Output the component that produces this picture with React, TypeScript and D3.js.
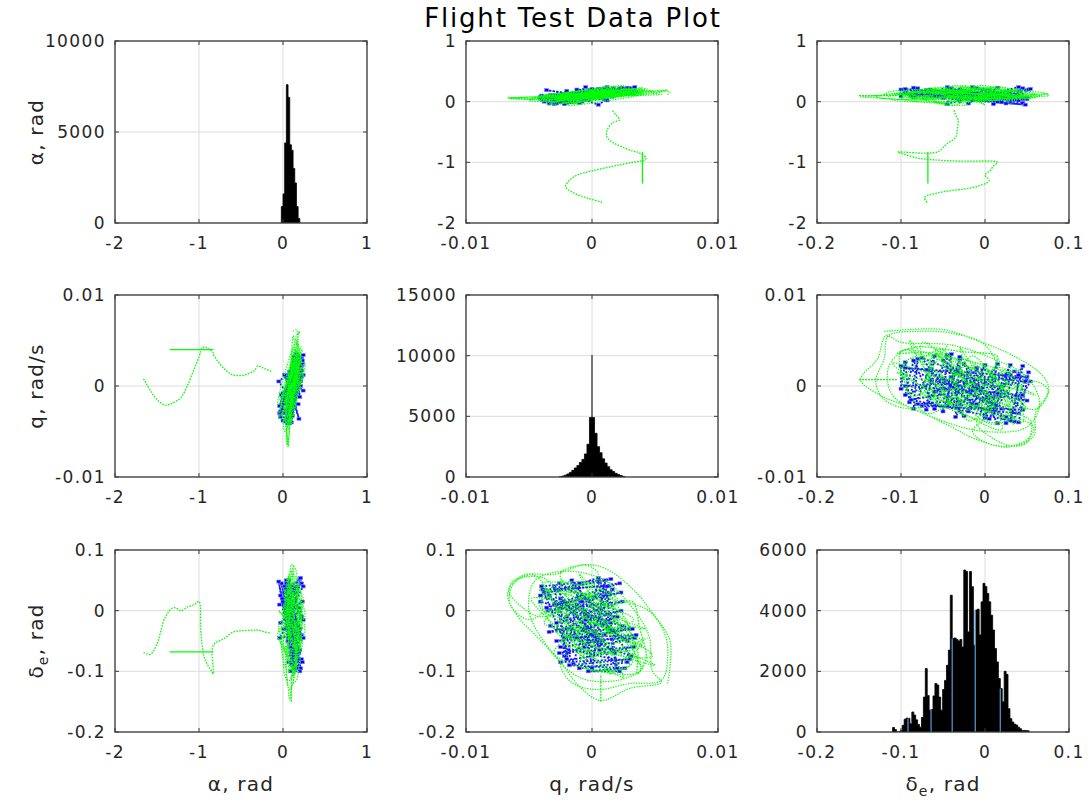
import React from "react";
import * as d3 from "d3";

// ---------- axis ticks ----------
const alphaTicks = [-2, -1, 0, 1];
const qTicks = [-0.01, 0, 0.01];
const deTicks = [-0.2, -0.1, 0, 0.1];
const alphaCountTicks = [0, 5000, 10000];
const qCountTicks = [0, 5000, 10000, 15000];
const deCountTicks = [0, 2000, 4000, 6000];

const alphaDomain = [-2, 1];
const qDomain = [-0.01, 0.01];
const deDomain = [-0.2, 0.1];
const alphaCountDomain = [0, 10000];
const qCountDomain = [0, 15000];
const deCountDomain = [0, 6000];

// ---------- histograms ----------
// angle of attack, rad
const alphaBinStart = -0.02;
const alphaBinWidth = 0.02;
const alphaCounts = [900, 1600, 4400, 7600, 6900, 4300, 4000, 3000, 2200, 900, 250];

// pitch rate, rad/s
const qBinStart = -0.0026;
const qBinWidth = 0.0002;
const qCounts = [
  20, 80, 150, 250, 380, 550, 750, 950, 1200, 1450, 1900, 2700, 4900,
  4900, 3600, 2500, 2000, 1500, 1150, 850, 600, 450, 300, 200, 120, 50,
];
const qSpike = { at: 0, halfWidth: 0.00004, count: 10050 };

// elevator deflection, rad
const deBinStart = -0.11;
const deBinWidth = 0.00229;
const deCounts = [
  150, 80, 0, 0, 50, 220, 420, 460, 450, 270, 660, 560, 400, 250, 160, 480,
  1150, 2090, 1200, 720, 740, 1190, 1600, 1550, 1150, 720, 1400, 1700, 2200,
  2700, 4510, 3080, 3100, 3050, 3000, 3050, 2800, 5340, 5290, 3300, 5290,
  4790, 2860, 4020, 4050, 3200, 4290, 4900, 4800, 4570, 4290, 3850, 3360,
  2750, 2310, 1760, 1430, 1000, 2000, 1900, 770, 440, 330, 260, 230, 160,
  110, 50, 50, 50, 40,
];
// bins whose left edge shows the lighter edge colour
const deEdgeBins = [8, 20, 31, 43, 56];

// ---------- time histories: [alpha, q, delta_e] ----------
// transition manoeuvre from deep negative alpha back to trim
const transientPath = [
  [-1.66, 0.0008, -0.069],
  [-1.58, -0.0005, -0.072],
  [-1.5, -0.0015, -0.055],
  [-1.4, -0.0021, -0.01],
  [-1.3, -0.0018, 0.005],
  [-1.21, -0.0012, 0.0],
  [-1.14, 0.0, 0.006],
  [-1.06, 0.0018, 0.01],
  [-1.0, 0.0032, 0.015],
  [-0.98, 0.0038, -0.03],
  [-0.96, 0.0042, -0.06],
  [-0.93, 0.0043, -0.08],
  [-0.85, 0.0038, -0.1],
  [-0.83, 0.0036, -0.104],
  [-0.83, 0.0035, -0.057],
  [-0.7, 0.0019, -0.046],
  [-0.59, 0.0012, -0.035],
  [-0.47, 0.0012, -0.033],
  [-0.34, 0.0017, -0.032],
  [-0.3, 0.0022, -0.032],
  [-0.22, 0.0019, -0.035],
  [-0.14, 0.0016, -0.037],
];
const jumpSegment = [
  [-1.35, 0.004, -0.068],
  [-0.83, 0.004, -0.068],
];
const tailSegment = [
  [0.1, 0.0007, -0.15],
  [0.1, 0.0007, -0.105],
];

// measured response around trim
const measuredTrim = [
  [0.12, 0.006, -0.12],
  [0.16, 0.0062, -0.05],
  [0.18, 0.005, -0.01],
  [0.17, 0.0035, 0.03],
  [0.15, 0.0012, 0.068],
  [0.1, -0.0005, 0.076],
  [0.08, -0.003, 0.06],
  [0.07, -0.0055, 0.058],
  [0.06, -0.0067, 0.028],
  [0.05, -0.0058, -0.012],
  [0.04, -0.0045, -0.04],
  [0.03, -0.0025, -0.085],
  [0.06, -0.001, -0.125],
  [0.08, 0.0007, -0.148],
  [0.1, 0.003, -0.128],
  [0.12, 0.0055, -0.118],
  [0.14, 0.0048, -0.1],
  [0.18, 0.0045, -0.04],
  [0.2, 0.003, 0.01],
  [0.16, 0.001, 0.05],
  [0.1, -0.002, 0.065],
  [0.05, -0.0045, 0.05],
  [0.02, -0.005, 0.0],
  [0.0, -0.0035, -0.06],
  [0.03, -0.001, -0.11],
  [0.08, 0.002, -0.115],
  [0.13, 0.004, -0.095],
  [0.17, 0.0035, -0.08],
  [0.22, 0.0028, -0.02],
  [0.19, 0.0005, 0.04],
  [0.12, -0.0025, 0.045],
  [0.04, -0.004, 0.02],
  [-0.02, -0.003, -0.03],
  [0.0, -0.0005, -0.08],
  [0.06, 0.0015, -0.1],
  [0.12, 0.0032, -0.085],
  [0.1, -0.003, 0.04],
  [0.06, -0.004, 0.055],
  [0.05, -0.0062, 0.05],
  [0.07, -0.0066, 0.032],
  [0.05, -0.0055, 0.005],
  [0.03, -0.004, -0.01],
  [0.08, -0.001, 0.02],
  [0.12, 0.0005, 0.06],
  [0.13, -0.0005, 0.075],
  [0.1, -0.0025, 0.062],
  [0.09, -0.002, 0.04],
  [0.16, 0.0045, 0.0],
  [0.19, 0.0058, -0.04],
  [0.2, 0.006, -0.08],
  [0.16, 0.0055, -0.115],
  [0.12, 0.003, -0.12],
  [0.08, 0.0005, -0.13],
  [0.05, -0.0015, -0.12],
  [0.04, -0.0025, -0.09],
  [0.06, -0.002, -0.06],
  [0.08, -0.0045, 0.058],
  [0.06, -0.0062, 0.045],
  [0.05, -0.0065, 0.01],
  [0.04, -0.005, -0.015],
  [0.07, -0.0035, 0.0],
  [0.18, 0.002, 0.03],
  [0.02, -0.002, -0.04],
  [0.2, 0.0025, -0.05],
  [0.0, -0.003, 0.01],
  [0.15, 0.003, -0.09],
  [0.08, -0.001, -0.09],
  [0.22, 0.002, 0.0],
  [0.05, -0.0035, 0.03],
  [0.18, 0.001, -0.07],
  [0.1, 0.0, 0.02],
  [0.23, 0.003, -0.03],
  [-0.04, -0.0015, -0.02],
  [0.14, 0.0015, -0.105],
  [0.12, -0.0025, 0.05],
  [0.2, 0.0035, -0.06],
  [0.01, -0.001, -0.06],
  [0.16, 0.0, 0.01],
  [0.14, 0.004, -0.06],
  [0.03, -0.0042, 0.035],
  [0.21, 0.0033, -0.015],
  [-0.03, -0.0025, -0.05],
  [0.18, 0.0048, -0.075],
  [0.09, -0.004, 0.045],
  [0.24, 0.002, 0.02],
  [0.04, -0.003, -0.07],
  [0.15, 0.0038, -0.1],
  [0.11, -0.001, 0.06],
  [0.25, 0.0012, -0.04],
  [-0.05, -0.0035, 0.0],
  [0.19, 0.0042, -0.03],
  [0.07, -0.0048, 0.02],
  [0.12, 0.0025, -0.11],
  [0.02, -0.0018, 0.035],
  [0.21, 0.003, -0.065],
  [0.06, -0.0028, -0.03],
  [0.17, 0.0008, 0.035],
  [0.01, -0.0038, -0.02],
  [0.23, 0.004, -0.05],
  [0.08, 0.0, -0.1],
  [0.13, -0.002, 0.03],
  [0.26, 0.0025, -0.01],
  [-0.06, -0.002, -0.035],
  [0.16, 0.005, -0.09],
  [0.1, -0.0042, 0.01],
  [0.2, 0.0015, 0.045],
  [0.05, -0.0008, -0.075],
  [0.22, 0.0044, -0.045],
];

// quantised record around trim
const quantisedTrim = [
  [0.1, -0.004, 0.04],
  [0.2, 0.0015, 0.052],
  [0.0, -0.0038, 0.03],
  [0.22, 0.0022, 0.045],
  [-0.04, -0.003, 0.01],
  [0.15, 0.0023, 0.03],
  [0.05, -0.0035, 0.0],
  [0.23, 0.0024, 0.015],
  [-0.03, -0.0028, -0.02],
  [0.12, 0.0023, 0.0],
  [0.08, -0.0034, -0.035],
  [0.2, 0.003, -0.03],
  [0.06, -0.0028, -0.05],
  [0.24, 0.0034, -0.045],
  [0.1, -0.0026, -0.07],
  [0.18, 0.0033, -0.06],
  [0.07, -0.0025, -0.085],
  [0.22, 0.003, -0.08],
  [0.12, -0.0018, -0.09],
  [0.16, 0.0026, -0.095],
  [0.09, -0.0003, -0.1],
  [0.2, 0.0022, -0.1],
  [0.02, -0.003, 0.04],
  [0.18, -0.002, -0.08],
  [-0.02, -0.001, 0.045],
  [0.21, 0.0, -0.095],
  [0.04, 0.001, 0.05],
  [0.14, 0.002, -0.095],
  [-0.05, 0.0005, 0.048],
  [0.1, -0.0015, -0.088],
  [0.03, -0.0039, 0.035],
  [0.24, 0.0012, 0.04],
  [0.06, -0.002, -0.01],
  [0.19, 0.0018, -0.07],
  [-0.01, -0.0025, 0.02],
  [0.13, 0.0028, -0.05],
  [0.05, -0.0012, 0.01],
  [0.22, 0.001, -0.04],
  [0.01, -0.002, -0.03],
  [0.17, 0.0015, -0.02],
  [0.08, -0.0041, 0.025],
  [0.21, 0.0005, 0.054],
  [0.11, 0.002, -0.01],
  [-0.04, -0.0022, -0.045],
  [0.16, 0.0035, -0.04],
  [0.09, -0.0025, -0.06],
  [0.23, 0.0028, -0.085],
  [0.14, -0.001, -0.095],
  [0.06, 0.0008, -0.05],
  [0.19, -0.0036, 0.005],
  [0.02, 0.0012, 0.03],
  [0.24, -0.0005, -0.015],
  [0.07, -0.0016, 0.05],
  [0.15, 0.0031, -0.075],
  [0.11, -0.0033, -0.025],
  [0.2, 0.0006, -0.065],
  [0.0, -0.0008, 0.015],
  [0.18, 0.0024, -0.025],
  [0.12, -0.0022, -0.075],
  [0.04, -0.0026, 0.045],
  [0.22, 0.0017, -0.01],
  [0.1, 0.0002, -0.035],
  [-0.03, -0.0034, 0.025],
  [0.16, -0.0006, -0.06],
  [0.08, 0.0016, 0.035],
  [0.2, -0.0012, -0.045],
  [0.13, 0.0032, -0.03],
  [0.05, -0.0041, 0.015],
];

// ---------- layout ----------
const colLeft = [115, 466, 817];
const rowTop = [41, 295, 550];
const PW = 252;
const PH = 182;

const FONT = "'DejaVu Sans', 'Noto Sans', sans-serif";
const INK = "#262626";
const BOX = "#3c3c3c";
const GRID = "#dcdcdc";
const GREEN = "#00ff00";
const BLUE = "#0000ff";
const EDGE_BLUE = "#4a86c0";

const varDomains = [alphaDomain, qDomain, deDomain];
const varTicks = [alphaTicks, qTicks, deTicks];
const countDomains = [alphaCountDomain, qCountDomain, deCountDomain];
const countTicks = [alphaCountTicks, qCountTicks, deCountTicks];

type Bin = [number, number, number];

function histBins(k: number): Bin[] {
  if (k === 0)
    return alphaCounts.map((n, i) => [alphaBinStart + i * alphaBinWidth, alphaBinStart + (i + 1) * alphaBinWidth, n]);
  if (k === 1)
    return qCounts.map((n, i) => [qBinStart + i * qBinWidth, qBinStart + (i + 1) * qBinWidth, n]);
  return deCounts.map((n, i) => [deBinStart + i * deBinWidth, deBinStart + (i + 1) * deBinWidth, n]);
}

function VarLabel({ k }: { k: number }) {
  if (k === 0) return <>α, rad</>;
  if (k === 1) return <>q, rad/s</>;
  return (
    <>
      <tspan>δ</tspan>
      <tspan dy={5} fontSize={14}>e</tspan>
      <tspan dy={-5}>, rad</tspan>
    </>
  );
}

function Histogram({ k, xs, ys }: { k: number; xs: d3.ScaleLinear<number, number>; ys: d3.ScaleLinear<number, number> }) {
  const bins = histBins(k);
  // step outline: one point per bin start, closing at the last bin end
  const pts: [number, number][] = bins.map((b) => [b[0], b[2]]);
  pts.push([bins[bins.length - 1][1], bins[bins.length - 1][2]]);
  const area = d3
    .area<[number, number]>()
    .x((d) => xs(d[0]))
    .y0(ys(0))
    .y1((d) => ys(d[1]))
    .curve(d3.curveStepAfter);
  return (
    <g>
      <path d={area(pts) || ""} fill="#000" stroke="#000" strokeWidth={0.8} />
      {k === 1 && (
        <rect
          x={xs(qSpike.at - qSpike.halfWidth)}
          width={Math.max(xs(qSpike.at + qSpike.halfWidth) - xs(qSpike.at - qSpike.halfWidth), 1)}
          y={ys(qSpike.count)}
          height={ys(0) - ys(qSpike.count)}
          fill="#000"
        />
      )}
      {k === 2 &&
        deEdgeBins.map((i) => {
          const ex = xs(deBinStart + i * deBinWidth);
          return (
            <line key={`e${i}`} x1={ex} x2={ex} y1={ys(0)} y2={ys(deCounts[i])} stroke={EDGE_BLUE} strokeWidth={1.4} />
          );
        })}
    </g>
  );
}

function Panel({ r, c }: { r: number; c: number }) {
  const x0 = colLeft[c];
  const y0 = rowTop[r];
  const isHist = r === c;
  const xs = d3.scaleLinear().domain(varDomains[c]).range([0, PW]);
  const ys = d3
    .scaleLinear()
    .domain(isHist ? countDomains[r] : varDomains[r])
    .range([PH, 0]);
  const xt = varTicks[c];
  const yt = isHist ? countTicks[r] : varTicks[r];
  const clipId = `clip-${r}-${c}`;

  const line = (curve: d3.CurveFactory) =>
    d3
      .line<number[]>()
      .x((d) => xs(d[c]))
      .y((d) => ys(d[r]))
      .curve(curve);

  const smooth = line(d3.curveCatmullRom.alpha(0.5));
  const straight = line(d3.curveLinear);

  return (
    <g transform={`translate(${x0},${y0})`}>
      <defs>
        <clipPath id={clipId}>
          <rect x={0} y={0} width={PW} height={PH} />
        </clipPath>
      </defs>
      {/* grid */}
      {xt.map((t) => (
        <line key={`gx${t}`} x1={xs(t)} x2={xs(t)} y1={0} y2={PH} stroke={GRID} strokeWidth={1} />
      ))}
      {yt.map((t) => (
        <line key={`gy${t}`} x1={0} x2={PW} y1={ys(t)} y2={ys(t)} stroke={GRID} strokeWidth={1} />
      ))}

      <g clipPath={`url(#${clipId})`}>
        {isHist ? (
          <Histogram k={r} xs={xs} ys={ys} />
        ) : (
          <g fill="none">
            <path
              d={straight(quantisedTrim) || ""}
              stroke={BLUE}
              strokeWidth={1.8}
              strokeOpacity={0.9}
              strokeDasharray="2 1.6"
            />
            <g fill={BLUE} stroke="#7f7fff" strokeWidth={0.6}>
              {quantisedTrim.map((d, i) => (
                <rect key={`b${i}`} x={xs(d[c]) - 2} y={ys(d[r]) - 1.5} width={4} height={3} />
              ))}
            </g>
            <path d={smooth(measuredTrim) || ""} stroke={GREEN} strokeWidth={1.2} strokeDasharray="1.3 1.3" />
            <path d={smooth(transientPath) || ""} stroke={GREEN} strokeWidth={1.3} strokeDasharray="1.6 1.3" />
            <path d={straight(jumpSegment) || ""} stroke={GREEN} strokeWidth={1.3} />
            <path d={straight(tailSegment) || ""} stroke={GREEN} strokeWidth={1.2} strokeDasharray="2 1" />
          </g>
        )}
      </g>

      {/* inward ticks */}
      {xt.map((t) => (
        <g key={`tx${t}`} stroke={BOX} strokeWidth={1}>
          <line x1={xs(t)} x2={xs(t)} y1={PH} y2={PH - 4} />
          <line x1={xs(t)} x2={xs(t)} y1={0} y2={4} />
        </g>
      ))}
      {yt.map((t) => (
        <g key={`ty${t}`} stroke={BOX} strokeWidth={1}>
          <line x1={0} x2={4} y1={ys(t)} y2={ys(t)} />
          <line x1={PW} x2={PW - 4} y1={ys(t)} y2={ys(t)} />
        </g>
      ))}
      <rect x={0} y={0} width={PW} height={PH} fill="none" stroke={BOX} strokeWidth={1.3} />

      {/* tick labels */}
      <g fontFamily={FONT} fontSize={17} fill={INK} letterSpacing={1.4}>
        {xt.map((t) => (
          <text key={`lx${t}`} x={xs(t)} y={PH + 26} textAnchor="middle">
            {String(t)}
          </text>
        ))}
        {yt.map((t) => (
          <text key={`ly${t}`} x={-9} y={ys(t) + 6} textAnchor="end">
            {String(t)}
          </text>
        ))}
      </g>
    </g>
  );
}

export default function App() {
  const cells: [number, number][] = [];
  for (let r = 0; r < 3; r++) for (let c = 0; c < 3; c++) cells.push([r, c]);
  return (
    <svg
      width={1091}
      height={809}
      viewBox="0 0 1091 809"
      style={{ display: "block", position: "absolute", left: 0, top: 0, background: "#fff" }}
    >
      <rect x={0} y={0} width={1091} height={809} fill="#fff" />
      <text x={573} y={27} textAnchor="middle" fontFamily={FONT} fontSize={26} letterSpacing={1.8} fill="#000">
        Flight Test Data Plot
      </text>
      {cells.map(([r, c]) => (
        <Panel key={`${r}-${c}`} r={r} c={c} />
      ))}
      {/* row labels */}
      {[0, 1, 2].map((k) => (
        <text
          key={`rl${k}`}
          transform={`translate(43,${rowTop[k] + PH / 2}) rotate(-90)`}
          textAnchor="middle"
          fontFamily={FONT}
          fontSize={20}
          fill={INK}
          letterSpacing={1.2}
        >
          <VarLabel k={k} />
        </text>
      ))}
      {/* column labels */}
      {[0, 1, 2].map((k) => (
        <text
          key={`cl${k}`}
          x={colLeft[k] + PW / 2}
          y={791}
          textAnchor="middle"
          fontFamily={FONT}
          fontSize={20}
          fill={INK}
          letterSpacing={1.2}
        >
          <VarLabel k={k} />
        </text>
      ))}
    </svg>
  );
}
